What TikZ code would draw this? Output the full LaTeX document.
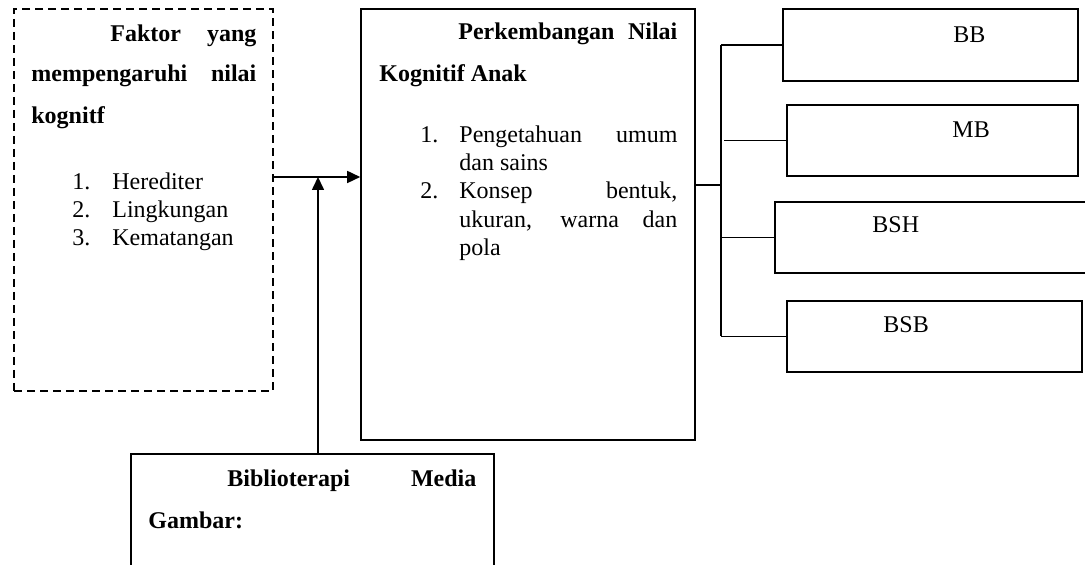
\documentclass[tikz,border=0pt]{standalone}
\usepackage{fontspec}
\setmainfont{Liberation Serif}
\usetikzlibrary{arrows.meta}

\tikzset{
  box/.style={draw, line width=0.8pt, inner sep=0pt},
  dashbox/.style={box, dash pattern=on 4pt off 2.5pt},
  txt/.style={anchor=base west, inner sep=0pt, font=\fontsize{12}{14}\selectfont},
  boldtxt/.style={txt, font=\fontsize{12}{14}\selectfont\bfseries},
  link/.style={line width=0.8pt},
  arrow/.style={link, -{Triangle[length=6.5pt,width=6pt]}}
}

\begin{document}
\begin{tikzpicture}[x=0.5pt, y=-0.5pt]
  \useasboundingbox (0,0) rectangle (1085,565);
  \clip (0,0) rectangle (1085,565);

  % boxes
  \node[dashbox, minimum width=129.5pt, minimum height=191pt] (faktor) at (143.5,200) {};
  \node[box, minimum width=167pt, minimum height=215.5pt] (main) at (528,224.5) {};
  \node[box, minimum width=147.5pt, minimum height=36pt] (bb) at (930.5,45) {};
  \node[box, minimum width=145.5pt, minimum height=35.5pt] (mb) at (932.5,140.5) {};
  \node[box, minimum width=162.5pt, minimum height=35.5pt] (bsh) at (937.5,237.5) {};
  \node[box, minimum width=147.5pt, minimum height=35.5pt] (bsb) at (934.5,336.5) {};
  \node[box, minimum width=181.5pt, minimum height=73pt] (media) at (312.5,527) {};

  % text of the left box
  \node[boldtxt] (faktor1) at (110,42) {\makebox[73pt][s]{Faktor yang}};
  \node[boldtxt] (faktor2) at (31,82) {\makebox[112.5pt][s]{mempengaruhi nilai}};
  \node[boldtxt] (faktor3) at (31,124) {kognitf};
  \node[txt] (n1) at (72,190) {1.};
  \node[txt] (n2) at (72,218) {2.};
  \node[txt] (n3) at (72,246) {3.};
  \node[txt] (herediter) at (112,190) {Herediter};
  \node[txt] (lingkungan) at (112,218) {Lingkungan};
  \node[txt] (kematangan) at (112,246) {Kematangan};

  % text of the middle box
  \node[boldtxt] (judul1) at (458,40) {\makebox[109.5pt][s]{Perkembangan Nilai}};
  \node[boldtxt] (judul2) at (379,82) {Kognitif Anak};
  \node[txt] (m1) at (420,143) {1.};
  \node[txt] (m2) at (420,199) {2.};
  \node[txt] (peng1) at (459,143) {\makebox[109pt][s]{Pengetahuan umum}};
  \node[txt] (peng2) at (459,171) {dan sains};
  \node[txt] (kons1) at (459,199) {\makebox[109pt][s]{Konsep bentuk,}};
  \node[txt] (kons2) at (459,228) {\makebox[109pt][s]{ukuran, warna dan}};
  \node[txt] (kons3) at (459,256) {pola};

  % text of the right boxes
  \node[txt] at (953,43) {BB};
  \node[txt] at (952,138) {MB};
  \node[txt] at (872,233) {BSH};
  \node[txt] at (883,333) {BSB};

  % text of the bottom box
  \node[boldtxt] (biblio1) at (227,487) {\makebox[124.5pt][s]{Biblioterapi Media}};
  \node[boldtxt] (biblio2) at (148,529) {Gambar:};

  % connectors
  \coordinate (hub) at (318,177);
  \coordinate (bus) at (721,185);
  \draw[arrow] (faktor.east |- hub) -- (main.west |- hub);
  \draw[arrow] (media.north -| hub) -- (hub);
  \draw[link] (main.east |- bus) -- (bus);
  \draw[link] (bus |- bb.west) -- (bus |- bsb.west);
  \draw[link] (bus |- bb.west) -- (bb.west);
  \draw[link] ([xshift=1.5pt]bus |- mb.west) -- (mb.west);
  \draw[link] (bus |- bsh.west) -- (bsh.west);
  \draw[link] (bus |- bsb.west) -- (bsb.west);
\end{tikzpicture}
\end{document}
